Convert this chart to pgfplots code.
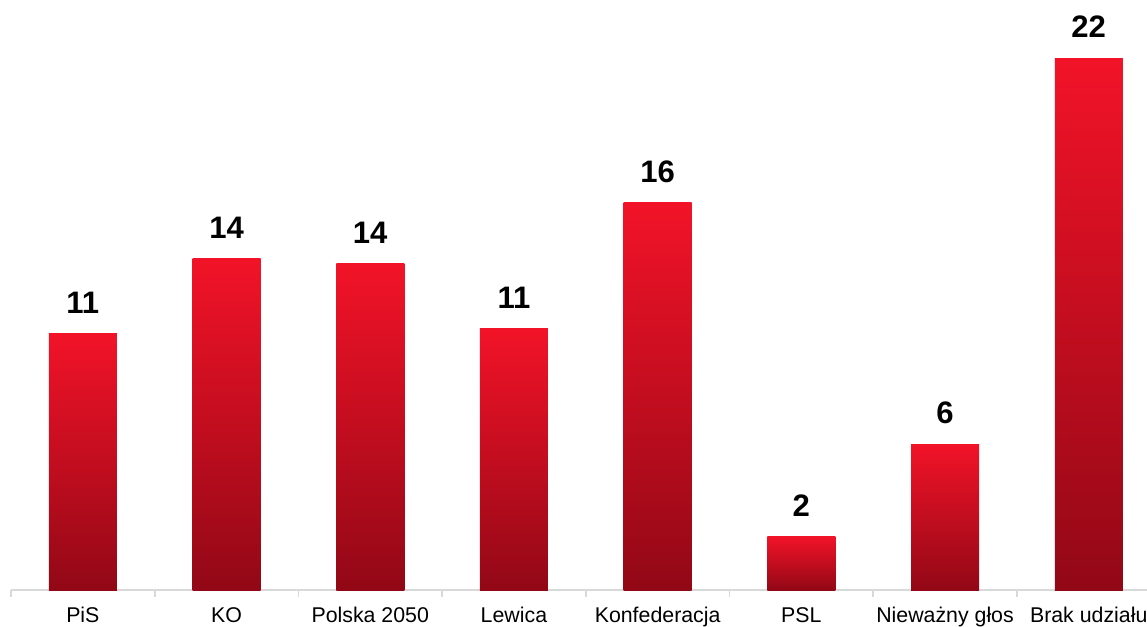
\documentclass[border=0pt]{standalone}
\usepackage{pgfplots}
\pgfplotsset{compat=1.18}
\usepackage{fontspec}
\setmainfont{Liberation Sans}
\definecolor{bartop}{HTML}{F21328}
\definecolor{barbot}{HTML}{920816}
\definecolor{axisgray}{HTML}{D9D9D9}

% one plot per bar so that every bar gets its own gradient
\pgfplotsset{redbar/.style={draw=none, top color=bartop, bottom color=barbot,
  bar shift=0pt}}

\begin{document}
\begin{tikzpicture}
\path[use as bounding box] (0,0) rectangle (860.25pt,469.5pt);
\begin{axis}[
  at={(8.25pt,27pt)}, anchor=south west,
  scale only axis, width=862.2pt, height=399pt,
  ybar, bar width=51pt,
  xmin=-0.5, xmax=7.5, ymin=0, ymax=22,
  axis x line*=bottom, axis y line=none,
  x axis line style={draw=axisgray, line width=1.5pt},
  xtick={0,...,7},
  xticklabels={PiS, KO, Polska 2050, Lewica, Konfederacja, PSL, Nieważny głos, Brak udziału},
  xtick style={draw=none}, major tick length=0pt,
  xticklabel style={font=\fontsize{16}{19}\selectfont, inner sep=0pt,
    text height=11.5pt, text depth=3pt, anchor=north, yshift=-12.75pt},
  extra x ticks={-0.5,0.5,1.5,2.5,3.5,4.5,5.5,6.5},
  extra x tick labels={},
  extra x tick style={tick align=outside, major tick length=5pt,
    xtick style={draw=axisgray, line width=1.2pt}},
  nodes near coords,
  point meta=explicit symbolic,
  every node near coord/.append style={font=\fontsize{23.3}{28}\selectfont\bfseries,
    text=black, inner sep=0pt, anchor=south, yshift=15pt},
]
\addplot[redbar] coordinates {(0,10.60) [11]};
\addplot[redbar] coordinates {(1,13.70) [14]};
\addplot[redbar] coordinates {(2,13.49) [14]};
\addplot[redbar] coordinates {(3,10.81) [11]};
\addplot[redbar] coordinates {(4,16.01) [16]};
\addplot[redbar] coordinates {(5,2.21) [2]};
\addplot[redbar] coordinates {(6,6.02) [6]};
\addplot[redbar] coordinates {(7,22.00) [22]};
\end{axis}
\end{tikzpicture}
\end{document}
